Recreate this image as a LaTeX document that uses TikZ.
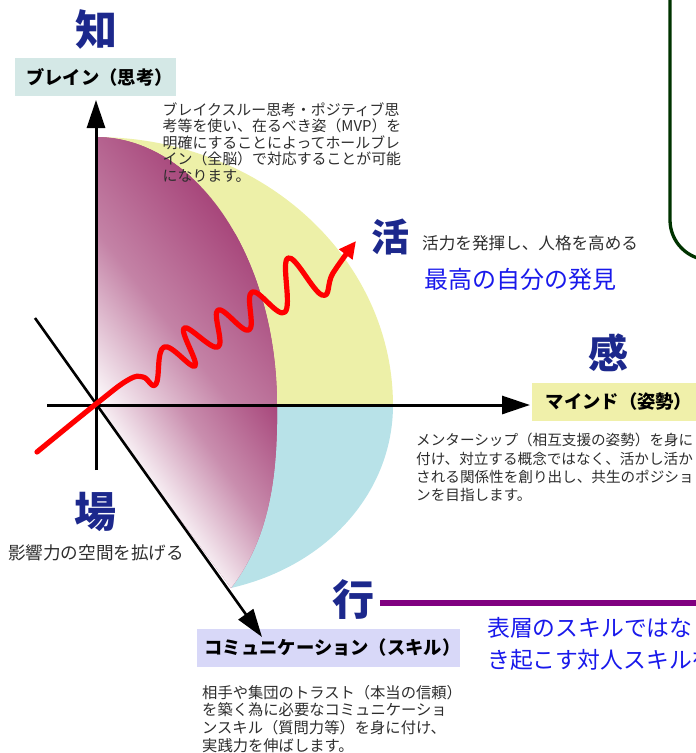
\documentclass[tikz,border=0pt]{standalone}
\usepackage{fontspec}
\setmainfont{Noto Sans CJK JP}
\usetikzlibrary{arrows.meta}
\definecolor{kanji}{RGB}{28,40,140}
\definecolor{magd}{RGB}{168,72,124}
\definecolor{ylw}{RGB}{237,240,168}
\definecolor{cyn}{RGB}{184,226,232}
\definecolor{boxa}{RGB}{212,232,230}
\definecolor{boxb}{RGB}{240,240,170}
\definecolor{boxc}{RGB}{216,216,248}
\definecolor{txtg}{RGB}{45,45,45}
\definecolor{bluet}{RGB}{25,25,235}
\definecolor{purp}{RGB}{128,0,128}
\definecolor{dgreen}{RGB}{0,51,0}
\begin{document}
\begin{tikzpicture}[x=1pt,y=-1pt,
  kanjistyle/.style={font=\fontsize{42}{42}\selectfont\bfseries, text=kanji, inner sep=0pt},
  labelbox/.style={fill=#1, minimum height=38pt, inner sep=0pt, font=\fontsize{18.3}{18.3}\selectfont\bfseries},
  desc/.style={anchor=north west, inner sep=0pt, align=left, text=txtg},
  axisline/.style={line width=3pt, -{Triangle[length=28pt,width=18pt]}},
  oneline/.style={anchor=west, inner sep=0pt},
  magshade/.style={bottom color=white, top color=magd, middle color=magd!#1},
]
\useasboundingbox (0,0) rectangle (696,753);
\clip (0,0) rectangle (696,753);

% coordinates
\coordinate (O) at (96,405);
\coordinate (vb) at (96,470);
\coordinate (vt) at (96,100);
\coordinate (hl) at (47,405);
\coordinate (hr) at (530,405);
\coordinate (dl) at (35,318);
\coordinate (dr) at (262,637);

% yellow
\fill[ylw] (O) -- plot[domain=90:0, samples=60] ({96+297*cos(\x)},{405-268*sin(\x)}) -- cycle;
% cyan
\fill[cyn] (277,405) -- (393,405) .. controls (393,490) and (330,565) .. (231,588)
  .. controls (268,540) and (278,480) .. (277,405) -- cycle;
% magenta upper
\begin{scope}
  \clip (O) -- plot[domain=90:0, samples=60] ({96+181*cos(\x)},{405-268*sin(\x)}) -- cycle;
  \fill[magd] (90,120) rectangle (290,410);
  \begin{scope}[transform canvas={rotate around={-52:(O)}}]
    \shade[magshade=68] (-304,405) rectangle (496,190);
  \end{scope}
\end{scope}
% magenta lower
\begin{scope}
  \clip (O) -- (277,405) .. controls (278,480) and (268,540) .. (231,588) -- cycle;
  \fill[magd] (90,400) rectangle (290,600);
  \begin{scope}[transform canvas={rotate around={-55:(O)}}]
    \shade[magshade=62] (-304,415) rectangle (496,258);
  \end{scope}
\end{scope}

% green rounded frame
\draw[dgreen, line width=3.3pt, rounded corners=40pt] (670,-60) rectangle (780,260);

% label boxes
\node[labelbox=boxa, minimum width=161pt] (box1) at (95.5,77) {\hspace*{8pt}ブレイン（思考）};
\node[labelbox=boxb, minimum width=168pt] (box2) at (616,402) {\hspace*{6pt}マインド（姿勢）};
\node[labelbox=boxc, minimum width=261pt] (box3) at (328.5,648) {\hspace*{8pt}コミュニケーション（スキル）};

% axes
\draw[axisline] (vb) -- (vt);
\draw[axisline] (hl) -- (hr);
\draw[axisline, line width=2.6pt] (dl) -- (dr);

% purple line
\coordinate (pl) at (380,603);
\coordinate (pr) at (700,603);
\draw[purp, line width=6pt] (pl) -- (pr);

% big kanji
\node[kanjistyle] (k1) at (96,29) {知};
\node[kanjistyle, font=\fontsize{38}{38}\selectfont\bfseries] (k2) at (390,237) {活};
\node[kanjistyle, font=\fontsize{40}{40}\selectfont\bfseries] (k3) at (608,353) {感};
\node[kanjistyle] (k4) at (95,512) {場};
\node[kanjistyle] (k5) at (353,600) {行};

% descriptions
\node[desc, font=\fontsize{14.9}{16.4}\selectfont] (d1) at (162.5,102.5) {ブレイクスルー思考・ポジティブ思\\考等を使い、在るべき姿（MVP）を\\明確にすることによってホールブレ\\イン（全脳）で対応することが可能\\になります。};
\node[desc, font=\fontsize{14.6}{18.3}\selectfont] (d2) at (416,433) {メンターシップ（相互支援の姿勢）を身に\\付け、対立する概念ではなく、活かし活か\\される関係性を創り出し、共生のポジショ\\ンを目指します。};
\node[desc, font=\fontsize{15.3}{17.6}\selectfont] (d3) at (202,685) {相手や集団のトラスト（本当の信頼）\\を築く為に必要なコミュニケーショ\\ンスキル（質問力等）を身に付け、\\実践力を伸ばします。};

\node[oneline, text=txtg, font=\fontsize{16.6}{16.6}\selectfont] (t2) at (422,243) {活力を発揮し、人格を高める};
\node[oneline, text=bluet, font=\fontsize{24}{24}\selectfont] (t3) at (424,279) {最高の自分の発見};
\node[oneline, text=txtg, font=\fontsize{17.6}{17.6}\selectfont] (t4) at (8,553) {影響力の空間を拡げる};
\node[desc, text=bluet, font=\fontsize{22.8}{32}\selectfont] (t5) at (487,617) {表層のスキルではな\\き起こす対人スキルを};

% red wave
\draw[red, line width=5.2pt, line cap=round, line join=round, -{Triangle[length=17pt,width=16pt]}]
  plot[smooth, tension=0.7] coordinates {(37,452) (96,404) (128,380) (143,377) (156,384) (164,347) (195,366) (184,328) (218,347) (218,310) (249,330) (252,292) (285,312) (288,258) (322,295) (333,273) (356,241)};
\end{tikzpicture}
\end{document}
